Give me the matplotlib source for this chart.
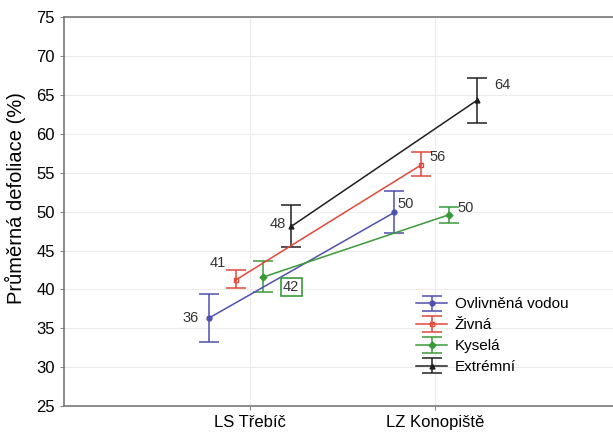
import numpy as np
import matplotlib
matplotlib.use("Agg")
import matplotlib.pyplot as plt

plt.rcParams['font.family'] = ['Liberation Sans', 'DejaVu Sans']

sites = ["LS Třebíč", "LZ Konopiště"]
groups = ["Ovlivněná vodou", "Živná", "Kyselá", "Extrémní"]
colors = ["#5050b0", "#e0483a", "#3a9a3a", "#202020"]
markers = ["o", "s", "D", "^"]

means = {
    "Ovlivněná vodou": [36.3, 49.9],
    "Živná": [41.2, 56.0],
    "Kyselá": [41.6, 49.6],
    "Extrémní": [48.1, 64.3],
}
err_low = {
    "Ovlivněná vodou": [33.2, 47.3],
    "Živná": [40.2, 54.6],
    "Kyselá": [39.7, 48.5],
    "Extrémní": [45.5, 61.4],
}
err_high = {
    "Ovlivněná vodou": [39.4, 52.7],
    "Živná": [42.5, 57.7],
    "Kyselá": [43.6, 50.6],
    "Extrémní": [50.8, 67.1],
}
labels = {
    "Ovlivněná vodou": ["36", "50"],
    "Živná": ["41", "56"],
    "Kyselá": ["42", "50"],
    "Extrémní": ["48", "64"],
}

offsets = [-0.22, -0.075, 0.075, 0.225]
# label offsets in points for each group at each site
lab_pos = {
    "Ovlivněná vodou": [(-13, 0), (8, 6)],
    "Živná": [(-13, 12), (12, 6)],
    "Kyselá": [(20, -7), (12, 5)],
    "Extrémní": [(-10, 2), (18, 11)],
}

fig = plt.figure(figsize=(6.13, 4.34), dpi=100)
ax = fig.add_axes([0.104, 0.064, 0.9, 0.897])

xc = np.array([1, 2])
handles = []
for g, c, m, off in zip(groups, colors, markers, offsets):
    x = xc + off
    y = np.array(means[g])
    lo = y - np.array(err_low[g])
    hi = np.array(err_high[g]) - y
    h = ax.errorbar(x, y, yerr=[lo, hi], color=c, lw=1.1, elinewidth=1.1,
                    capsize=7, capthick=1.1, marker=m, ms=3.5, mfc='none' if m == "s" else c,
                    mec=c, label=g)
    handles.append(h)
    for i in range(2):
        dx, dy = lab_pos[g][i]
        if g == "Kyselá" and i == 0:
            ax.annotate(labels[g][i], (x[i], y[i]), xytext=(dx, dy), textcoords='offset points',
                        ha='center', va='center', fontsize=10.5, color='#333333',
                        bbox=dict(boxstyle='square,pad=0.15', fc='white', ec='#3a9a3a', lw=1.2))
        else:
            ax.annotate(labels[g][i], (x[i], y[i]), xytext=(dx, dy), textcoords='offset points',
                        ha='center', va='center', fontsize=10.5, color='#333333')

ax.set_xlim(0, 2.97)
ax.set_ylim(25, 75)
ax.set_xticks(xc)
ax.set_xticklabels(sites, fontsize=12)
ax.set_yticks(np.arange(25, 76, 5))
ax.tick_params(axis='y', labelsize=12, length=3, color='#888888')
ax.tick_params(axis='x', length=3, color='#888888')
ax.set_ylabel("Průměrná defoliace (%)", fontsize=14.5)
ax.yaxis.set_label_coords(-0.069, 0.535)
ax.grid(True, color='#ececec', lw=0.8)
ax.set_axisbelow(True)
for s in ['left', 'top', 'bottom']:
    ax.spines[s].set_color('#777777')
    ax.spines[s].set_linewidth(1.2)
ax.spines['right'].set_visible(False)

ax.legend(handles=handles, loc='upper left', bbox_to_anchor=(0.628, 0.295), frameon=False,
          fontsize=11, handlelength=2.0, handletextpad=0.5, labelspacing=0.45,
          borderaxespad=0)

fig.savefig("out.png", dpi=100)
